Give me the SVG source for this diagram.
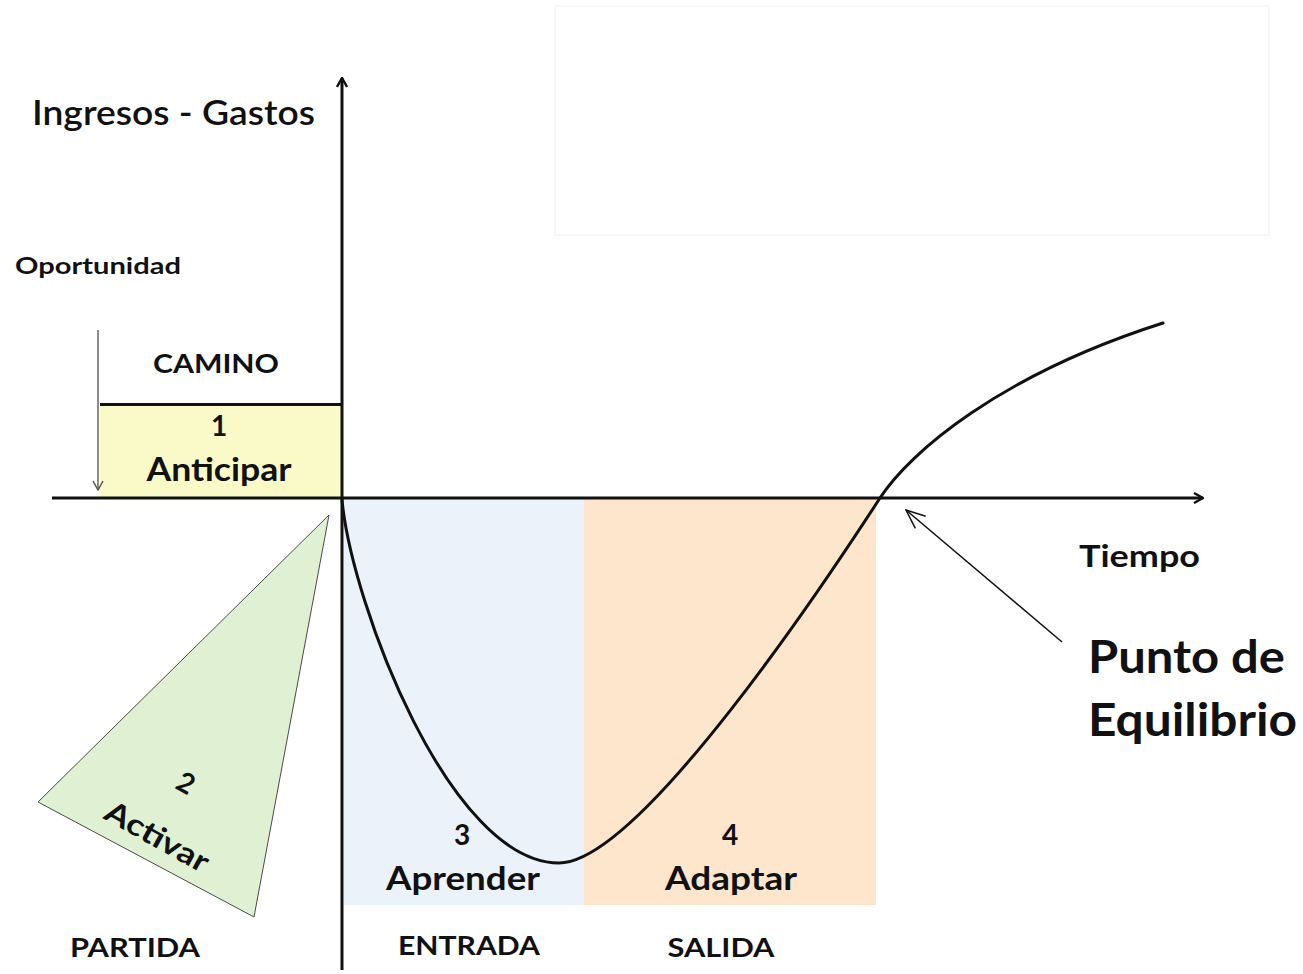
<svg xmlns="http://www.w3.org/2000/svg" width="1303" height="974" viewBox="0 0 1303 974">
  <style>
    text { font-family: Lato, "Liberation Sans", sans-serif; fill: #111; }
    .lbl { font-weight: 700; }
    .num { font-weight: 700; font-size: 28px; }
    .axis { stroke: #111; stroke-width: 3; fill: none; }
    .curve { stroke: #111; stroke-width: 3; fill: none; stroke-linecap: round; }
  </style>
  <defs>
    <marker id="chev" viewBox="0 0 12 12" refX="11" refY="6" markerWidth="12" markerHeight="12" markerUnits="userSpaceOnUse" orient="auto">
      <polyline points="2,1 11,6 2,11" fill="none" stroke="#111" stroke-width="2.4" stroke-linejoin="miter"/>
    </marker>
    <marker id="chevThin" viewBox="0 0 12 12" refX="11" refY="6" markerWidth="12" markerHeight="12" markerUnits="userSpaceOnUse" orient="auto">
      <polyline points="2,1 11,6 2,11" fill="none" stroke="#555" stroke-width="1.5"/>
    </marker>
    <marker id="leaderHead" viewBox="0 0 24 24" refX="23" refY="12" markerWidth="24" markerHeight="24" markerUnits="userSpaceOnUse" orient="auto">
      <polyline points="4,4 23,12 4,20" fill="none" stroke="#111" stroke-width="1.5"/>
    </marker>
  </defs>

  <rect width="1303" height="974" fill="#fff"/>
  <!-- empty frame in the upper right -->
  <rect x="555" y="6" width="714" height="229" fill="none" stroke="#f3f3f3" stroke-width="1"/>

  <!-- phase areas -->
  <g id="phase-anticipar">
    <rect x="100" y="404" width="242" height="94" fill="#fafac9"/>
    <line x1="100" y1="404.5" x2="342" y2="404.5" stroke="#111" stroke-width="3"/>
    <text x="216" y="373" font-size="27" text-anchor="middle" class="lbl" textLength="126" lengthAdjust="spacingAndGlyphs">CAMINO</text>
    <text x="219" y="436" text-anchor="middle" class="num">1</text>
    <text x="219" y="481" font-size="32" text-anchor="middle" class="lbl" textLength="145" lengthAdjust="spacingAndGlyphs">Anticipar</text>
  </g>

  <g id="phase-activar">
    <polygon points="329,515 38,802 254,917" fill="#e0f0d3" stroke="#4a4a4a" stroke-width="1"/>
    <text transform="translate(186,783) rotate(29)" y="10" text-anchor="middle" class="num">2</text>
    <text transform="translate(157,837) rotate(29)" y="10" font-size="30" text-anchor="middle" class="lbl" textLength="114" lengthAdjust="spacingAndGlyphs">Activar</text>
    <text x="135" y="957" font-size="26" text-anchor="middle" class="lbl" textLength="130" lengthAdjust="spacingAndGlyphs">PARTIDA</text>
  </g>

  <g id="phase-aprender">
    <rect x="344" y="499" width="240" height="406" fill="#ebf2fa"/>
    <text x="462" y="845" text-anchor="middle" class="num">3</text>
    <text x="463" y="890" font-size="32" text-anchor="middle" class="lbl" textLength="154" lengthAdjust="spacingAndGlyphs">Aprender</text>
    <text x="469" y="955" font-size="26" text-anchor="middle" class="lbl" textLength="142" lengthAdjust="spacingAndGlyphs">ENTRADA</text>
  </g>

  <g id="phase-adaptar">
    <rect x="584" y="499" width="292" height="406" fill="#fde6cc"/>
    <text x="730" y="845" text-anchor="middle" class="num">4</text>
    <text x="731" y="890" font-size="32" text-anchor="middle" class="lbl" textLength="132" lengthAdjust="spacingAndGlyphs">Adaptar</text>
    <text x="721" y="957" font-size="26" text-anchor="middle" class="lbl" textLength="107" lengthAdjust="spacingAndGlyphs">SALIDA</text>
  </g>

  <!-- axes, curve and pointers -->
  <g id="connectors">
    <line class="axis" x1="342" y1="970" x2="342" y2="78" marker-end="url(#chev)"/>
    <line class="axis" x1="52" y1="498" x2="1203" y2="498" marker-end="url(#chev)"/>
    <line x1="98" y1="330" x2="98" y2="490" stroke="#666" stroke-width="1.5" marker-end="url(#chevThin)"/>
    <path class="curve" d="M342,500 C352,605 450,863 559,863 C640,863 830,575 880,498 C910,452 1000,375 1163,323"/>
    <line x1="1062" y1="642" x2="906" y2="510" stroke="#111" stroke-width="1.5" marker-end="url(#leaderHead)"/>
  </g>

  <g id="axis-labels">
    <text x="32" y="125" font-size="35" font-weight="600" textLength="283" lengthAdjust="spacingAndGlyphs">Ingresos - Gastos</text>
    <text x="15" y="274" font-size="23" class="lbl" textLength="166" lengthAdjust="spacingAndGlyphs">Oportunidad</text>
    <text x="1079" y="567" font-size="31" class="lbl" textLength="121" lengthAdjust="spacingAndGlyphs">Tiempo</text>
  </g>

  <g id="equilibrio-label">
    <text x="1088" y="673" font-size="45" class="lbl" textLength="197" lengthAdjust="spacingAndGlyphs">Punto de</text>
    <text x="1088" y="736" font-size="45" class="lbl" textLength="209" lengthAdjust="spacingAndGlyphs">Equilibrio</text>
  </g>
</svg>
